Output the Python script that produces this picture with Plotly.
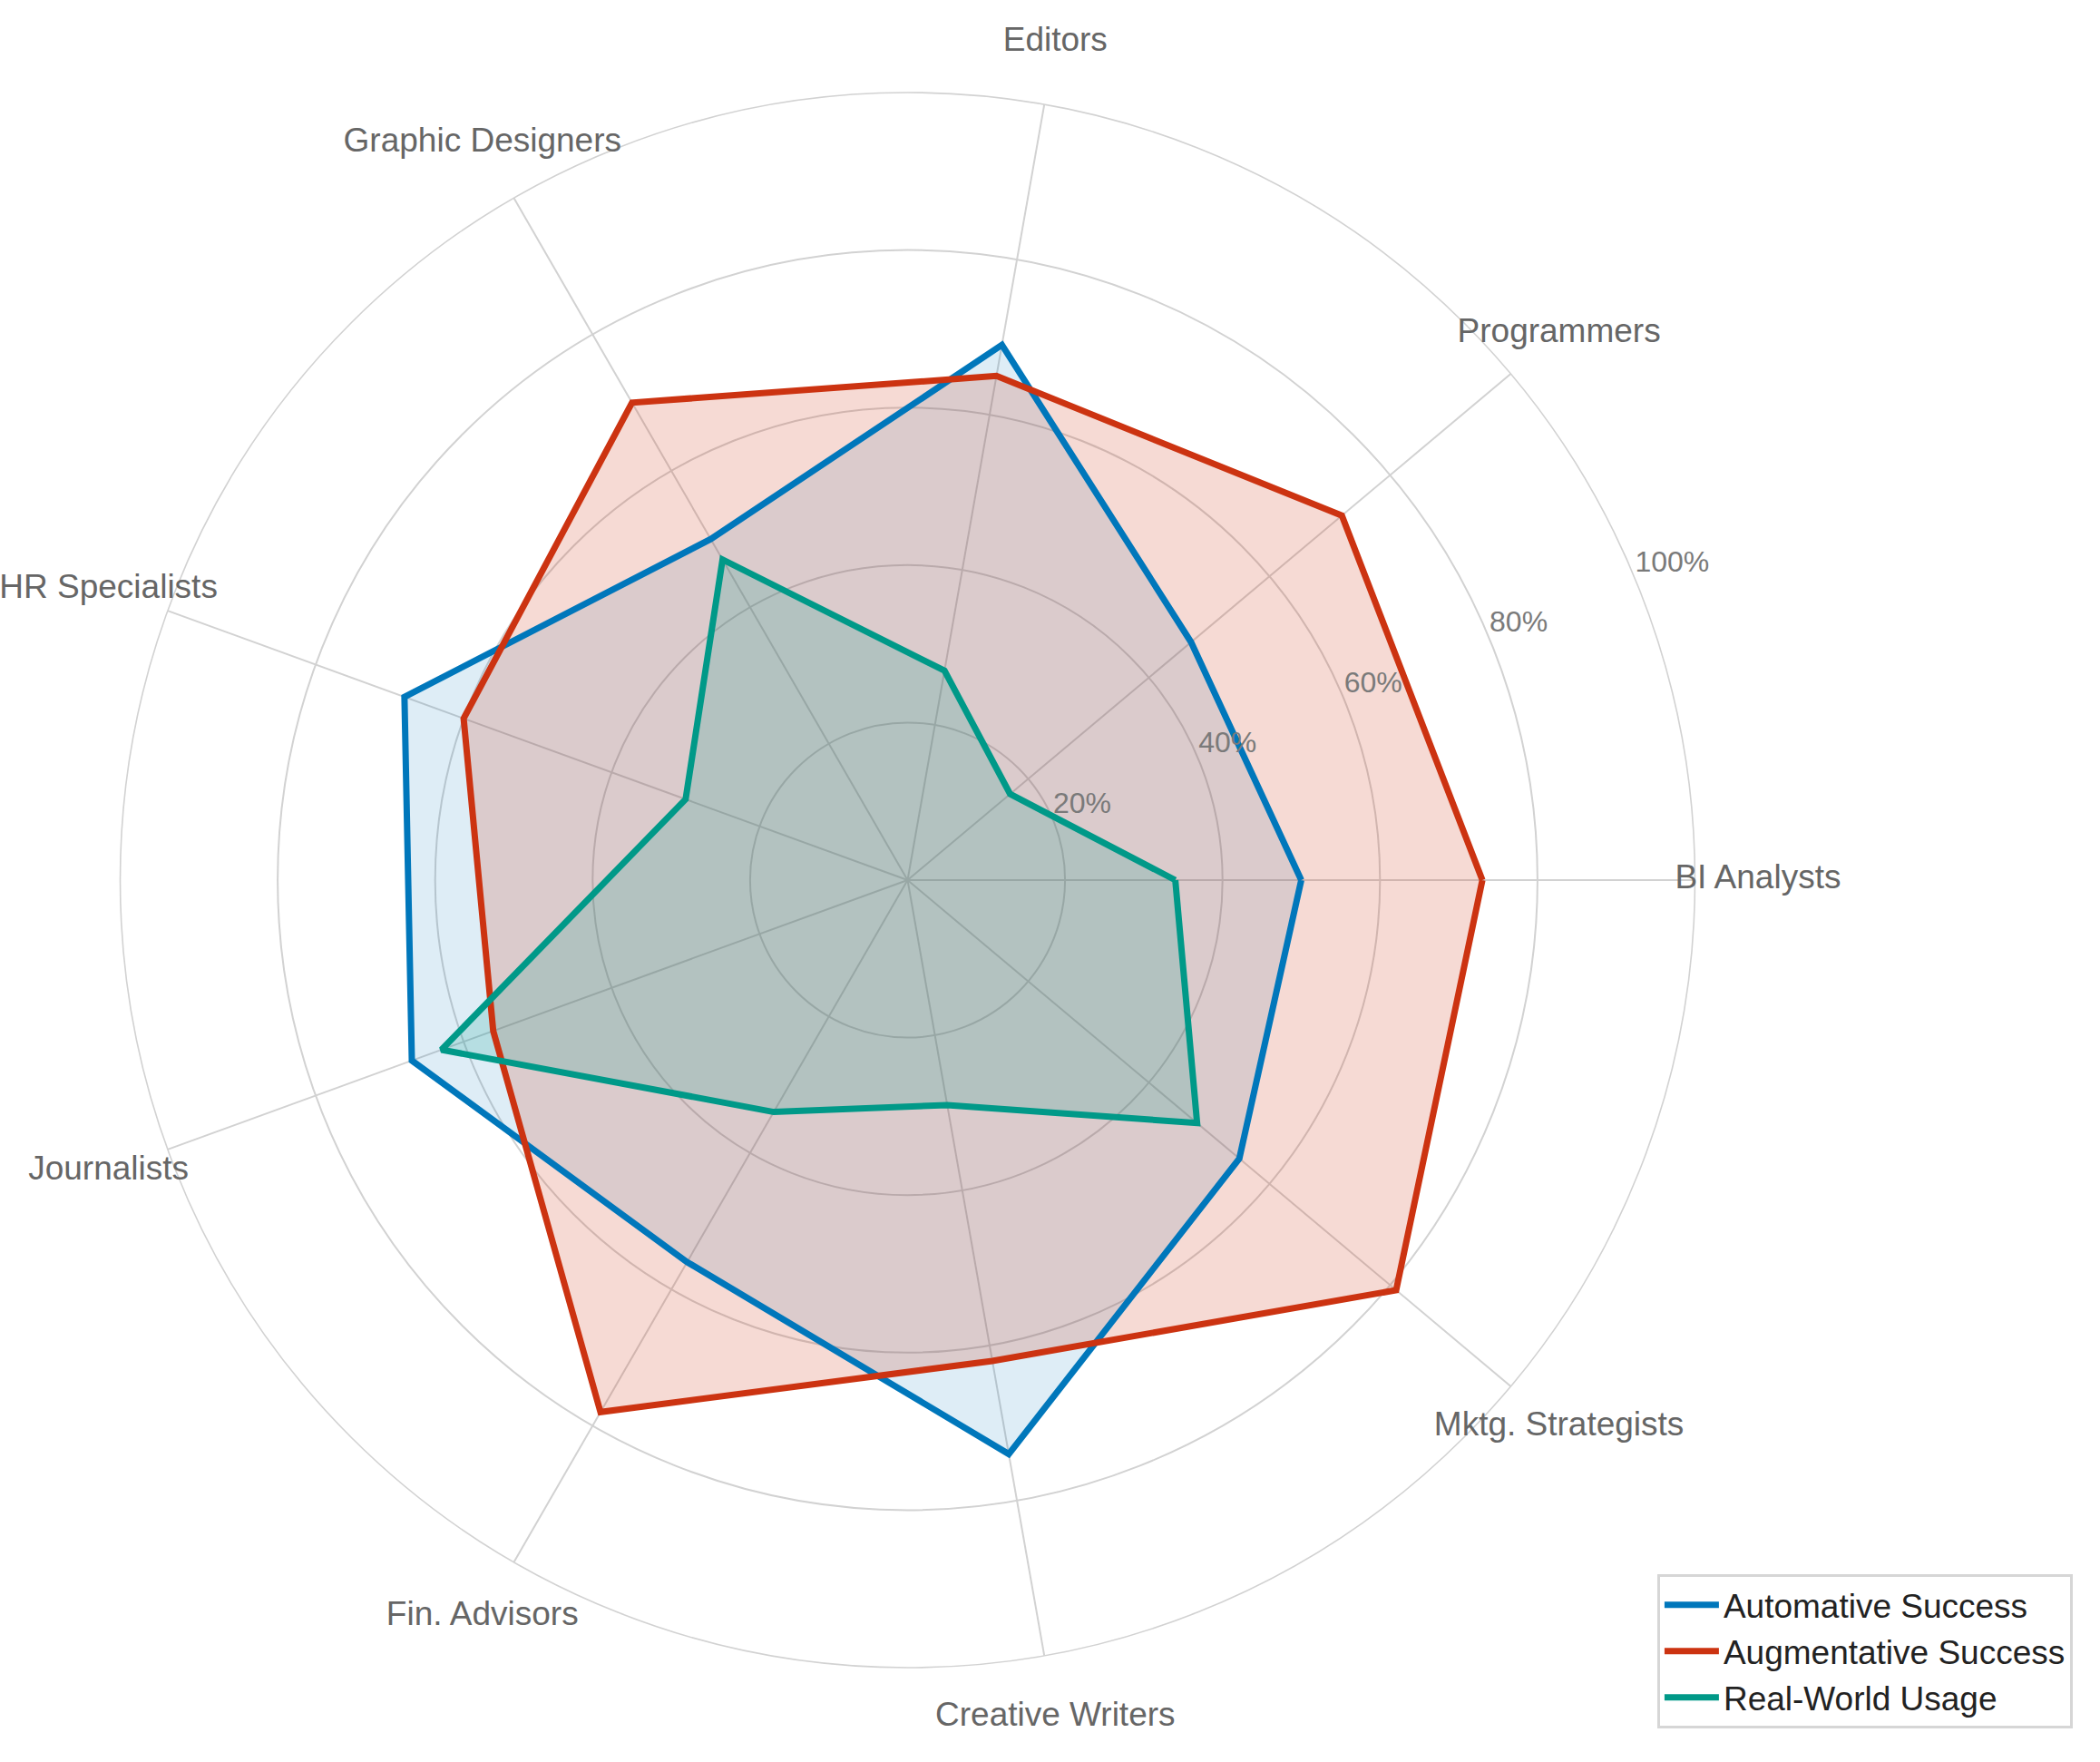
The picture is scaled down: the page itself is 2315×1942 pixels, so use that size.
import plotly.graph_objects as go

categories = ["BI Analysts", "Programmers", "Editors", "Graphic Designers", "HR Specialists",
              "Journalists", "Fin. Advisors", "Creative Writers", "Mktg. Strategists"]
automative = [50, 47, 69, 50, 68, 67, 56, 74, 55]
augmentative = [73, 72, 65, 70, 60, 56, 78, 62, 81]
real_world = [34, 17, 27, 47, 30, 63, 34, 29, 48]

radial_ticks = [20, 40, 60, 80, 100]
radial_ticktext = ["20%", "40%", "60%", "80%", "100%"]

series = [
    ("Automative Success", automative, "#0077BB", "rgba(0,119,187,0.13)"),
    ("Augmentative Success", augmentative, "#CC3311", "rgba(204,51,17,0.18)"),
    ("Real-World Usage", real_world, "#009988", "rgba(0,153,136,0.18)"),
]

n = len(categories)
step = 360 / n
theta = [i * step for i in range(n)]
theta_closed = theta + theta[:1]

RMAX = 100
LABEL_R = 108      # radius (in data units) where category labels are centred
RADIAL_ANGLE = 22.5

fig = go.Figure()

# fills first
for name, vals, color, fill in series:
    fig.add_trace(go.Scatterpolar(
        r=vals + vals[:1], theta=theta_closed,
        mode="lines", line=dict(width=0, color=fill),
        fill="toself", fillcolor=fill, showlegend=False, hoverinfo="skip"))

# lines on top
for name, vals, color, fill in series:
    fig.add_trace(go.Scatterpolar(
        r=vals + vals[:1], theta=theta_closed,
        mode="lines", line=dict(width=7, color=color), name=name,
        showlegend=True))

# radial tick labels
fig.add_trace(go.Scatterpolar(
    r=radial_ticks, theta=[RADIAL_ANGLE] * len(radial_ticks), mode="text",
    text=radial_ticktext, textposition="top right", cliponaxis=False,
    textfont=dict(size=32, color="#7a7a7a"),
    showlegend=False, hoverinfo="skip"))

# category labels on an overlaid, invisible polar with the same scale
fig.add_trace(go.Scatterpolar(
    r=[LABEL_R] * n, theta=theta, mode="text", text=categories,
    textposition="middle center", cliponaxis=False,
    textfont=dict(size=37, color="#666666"),
    showlegend=False, hoverinfo="skip", subplot="polar2"))

R_PX = 868
cx, cy = 1000.5 / 2315, 1 - 970 / 1942


def dom(scale):
    hx = R_PX * scale / 2315
    hy = R_PX * scale / 1942
    return dict(x=[cx - hx, cx + hx], y=[cy - hy, cy + hy])


hidden_radial = dict(visible=False, range=[0, LABEL_R])
hidden_angular = dict(visible=False, type="linear", thetaunit="degrees",
                      direction="counterclockwise", rotation=0)

fig.update_layout(
    width=2315, height=1942,
    margin=dict(l=0, r=0, t=0, b=0),
    paper_bgcolor="white",
    font=dict(family="Liberation Sans, Arial, sans-serif"),
    polar=dict(
        domain=dom(1.0),
        bgcolor="white",
        radialaxis=dict(
            range=[0, RMAX], tickvals=radial_ticks, showticklabels=False,
            angle=RADIAL_ANGLE, showline=False, ticks="",
            gridcolor="#d2d2d2", gridwidth=1.6,
        ),
        angularaxis=dict(
            type="linear", thetaunit="degrees", direction="counterclockwise", rotation=0,
            tickmode="array", tickvals=theta, showticklabels=False,
            showline=True, linecolor="#d2d2d2", linewidth=1.6,
            gridcolor="#d2d2d2", gridwidth=1.6, ticks="",
        ),
    ),
    polar2=dict(
        domain=dom(LABEL_R / RMAX),
        bgcolor="rgba(0,0,0,0)",
        radialaxis=hidden_radial,
        angularaxis=hidden_angular,
    ),
    legend=dict(
        x=0.987, y=0.019, xanchor="right", yanchor="bottom",
        bgcolor="white", bordercolor="#d6d6d6", borderwidth=3,
        font=dict(size=37, color="#222222"),
        tracegroupgap=0, itemwidth=60,
    ),
)

fig.write_html("out.html")
